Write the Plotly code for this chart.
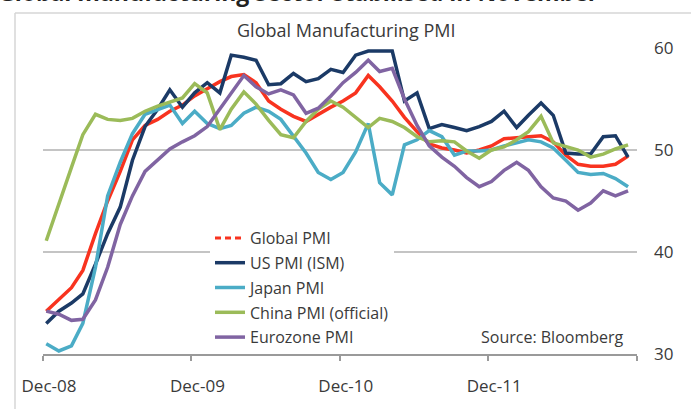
import pandas as pd
import plotly.graph_objects as go

# ---------------- data ----------------
months = pd.date_range("2008-12-01", periods=48, freq="MS")

global_pmi = [34.2, 35.4, 36.5, 38.2, 41.8, 45.0, 47.9, 51.0, 52.4, 53.0, 53.8, 54.4,
              55.3, 56.0, 56.7, 57.2, 57.4, 56.6, 54.8, 54.0, 53.3, 52.8, 53.5, 54.2,
              54.8, 55.6, 57.3, 56.2, 54.8, 53.2, 51.8, 50.6, 50.2, 50.0, 49.7, 50.0,
              50.4, 51.1, 51.2, 51.3, 51.4, 50.8, 49.5, 48.6, 48.4, 48.4, 48.6, 49.4]

us_pmi = [33.0, 34.2, 35.0, 35.9, 38.8, 41.8, 44.4, 49.0, 52.3, 54.0, 55.9, 54.2,
          55.6, 56.6, 55.6, 59.3, 59.1, 58.8, 56.4, 56.5, 57.5, 56.7, 57.0, 57.9,
          57.6, 59.3, 59.7, 59.7, 59.7, 54.8, 55.6, 52.1, 52.5, 52.2, 51.9, 52.3,
          52.8, 53.8, 52.2, 53.4, 54.6, 53.4, 49.7, 49.6, 49.6, 51.3, 51.4, 49.3]

japan_pmi = [31.0, 30.3, 30.8, 33.0, 38.5, 45.5, 48.8, 51.6, 53.5, 54.0, 54.4, 52.6,
             53.8, 52.6, 52.1, 52.4, 53.6, 54.2, 53.8, 53.0, 51.3, 49.7, 47.8, 47.1,
             47.8, 49.8, 52.6, 46.8, 45.6, 50.5, 51.0, 51.9, 51.3, 49.5, 49.9, 49.9,
             50.0, 50.4, 50.7, 51.0, 50.8, 50.2, 49.0, 47.8, 47.6, 47.7, 47.2, 46.4]

china_pmi = [41.1, 44.8, 48.3, 51.5, 53.5, 53.0, 52.9, 53.1, 53.8, 54.3, 54.7, 55.1,
             56.5, 55.6, 52.0, 54.0, 55.7, 54.5, 52.9, 51.5, 51.2, 52.8, 54.0, 54.8,
             54.2, 53.2, 52.2, 53.1, 52.8, 52.2, 51.3, 50.8, 50.9, 50.8, 49.9, 49.2,
             50.0, 50.3, 51.0, 51.8, 53.3, 50.7, 50.3, 50.0, 49.3, 49.6, 50.1, 50.5]

euro_pmi = [34.2, 33.9, 33.3, 33.4, 35.3, 38.5, 42.7, 45.5, 47.9, 49.0, 50.1, 50.8,
            51.4, 52.3, 54.0, 55.6, 57.3, 56.2, 55.5, 55.9, 55.4, 53.6, 54.1, 55.3,
            56.6, 57.6, 58.8, 57.7, 58.0, 55.0, 52.4, 50.4, 49.3, 48.4, 47.3, 46.4,
            46.9, 48.0, 48.8, 48.0, 46.4, 45.3, 45.0, 44.1, 44.8, 46.0, 45.5, 46.0]

series_names = ["Global PMI", "US PMI (ISM)", "Japan PMI", "China PMI (official)", "Eurozone PMI"]
series_colors = ["#F8331F", "#1B3A66", "#4BACC6", "#9BBB59", "#8064A2"]

tick_dates = pd.to_datetime(["2008-11-23", "2009-11-23", "2010-11-23", "2011-11-23", "2012-11-23"])
tick_labels = ["Dec-08", "Dec-09", "Dec-10", "Dec-11", ""]
y_ticks = [30, 40, 50, 60]

# ---------------- figure ----------------
W, H = 691, 409
L, R, T, B = 43, 54, 48, 55
pw, ph = W - L - R, H - T - B


def px(x):
    return (x - L) / pw


def py(y):
    return (H - B - y) / ph


FONT = "Open Sans"
TXT = "#3a3a3a"

fig = go.Figure()

all_series = [global_pmi, us_pmi, japan_pmi, china_pmi, euro_pmi]
for i, (name, vals, col) in enumerate(zip(series_names, all_series, series_colors)):
    fig.add_trace(go.Scatter(
        x=months, y=vals, mode="lines", name=name,
        line=dict(color=col, width=3.5),
        showlegend=(i != 0), legendgroup=name, legendrank=i + 1,
        hoverinfo="skip",
    ))

# dashed legend sample for the global series
fig.add_trace(go.Scatter(
    x=[None], y=[None], mode="lines", name=series_names[0],
    line=dict(color=series_colors[0], width=3, dash="6px,4px"),
    legendgroup=series_names[0], legendrank=1, showlegend=True,
))

fig.update_layout(
    width=W, height=H,
    margin=dict(l=L, r=R, t=T, b=B),
    paper_bgcolor="white", plot_bgcolor="white",
    font=dict(family=FONT, color=TXT, size=16),
    legend=dict(
        x=px(210), y=py(221), xanchor="left", yanchor="top",
        bgcolor="white", borderwidth=0,
        font=dict(family=FONT, size=16, color=TXT),
        traceorder="grouped", tracegroupgap=1,
    ),
    xaxis=dict(
        type="date",
        range=[tick_dates[0], tick_dates[-1]],
        tickvals=tick_dates, ticktext=tick_labels,
        showgrid=False, zeroline=False,
        showline=True, linecolor="#9a9a9a", linewidth=2,
        ticks="outside", ticklen=5, tickcolor="#9a9a9a", tickwidth=2,
        tickfont=dict(family=FONT, size=17, color=TXT),
        ticklabelshift=6, ticklabelstandoff=11,
    ),
    yaxis=dict(
        side="right",
        range=[30, 60],
        tickvals=y_ticks,
        showgrid=True, gridcolor="#c4c4c4", gridwidth=2,
        zeroline=False, showline=False, ticks="",
        tickfont=dict(family=FONT, size=17, color=TXT),
        ticklabelstandoff=16,
    ),
    annotations=[
        dict(text="Global manufacturing sector stabilised in November",
             xref="paper", yref="paper", x=px(-4), y=py(10),
             xanchor="left", yanchor="bottom", showarrow=False,
             font=dict(family=FONT, size=23, color="#222222", weight="bold")),
        dict(text="Global Manufacturing PMI",
             xref="paper", yref="paper", x=px(346), y=py(30),
             xanchor="center", yanchor="middle", showarrow=False,
             font=dict(family=FONT, size=18, color=TXT)),
        dict(text="Source: Bloomberg",
             xref="paper", yref="paper", x=px(626), y=py(337),
             xanchor="right", yanchor="middle", showarrow=False,
             font=dict(family=FONT, size=16, color=TXT)),
    ],
    shapes=[
        dict(type="line", xref="paper", yref="paper",
             x0=px(15), x1=px(15), y0=py(13), y1=py(415),
             line=dict(color="#d6d6d6", width=1.5)),
        dict(type="line", xref="paper", yref="paper",
             x0=px(15), x1=px(700), y0=py(13), y1=py(13),
             line=dict(color="#d6d6d6", width=1.5)),
    ],
)

fig.write_html("out.html")
